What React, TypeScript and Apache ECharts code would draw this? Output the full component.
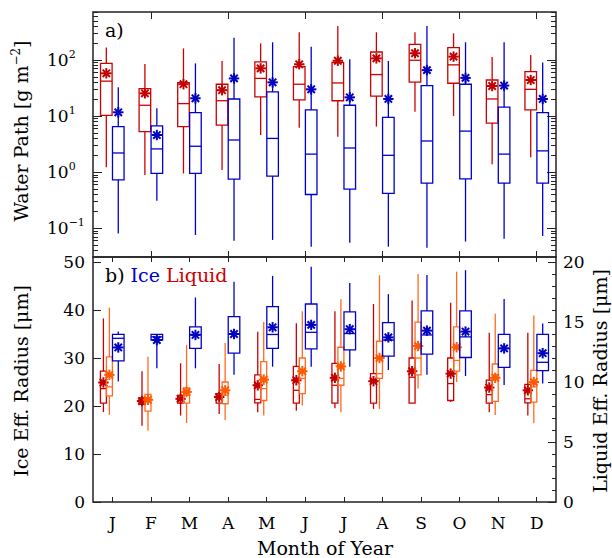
import React, { useEffect, useRef } from "react";
import * as echarts from "echarts";

const months = ["J", "F", "M", "A", "M", "J", "J", "A", "S", "O", "N", "D"];

// Each row: [low whisker, Q1, median, Q3, high whisker, mean]
const liquidWaterPath = [
  [1.22, 10.3, 42, 87, 168, 58],
  [0.89, 5.3, 15.6, 31, 85, 25.5],
  [0.95, 6.5, 16.7, 39.5, 161, 37],
  [1.09, 6.9, 18.8, 37, 96, 29],
  [4.6, 22, 47, 93, 198, 71],
  [6.2, 19.4, 37, 76, 312, 84],
  [4.3, 18.8, 39, 91, 404, 97],
  [6.5, 22.8, 55, 139, 312, 107],
  [12, 40.5, 99, 190, 312, 132],
  [10, 38.5, 82, 166, 299, 115],
  [1.38, 7.5, 20.2, 44, 113, 34.4],
  [1.85, 12.9, 30, 62, 123, 44],
];
const iceWaterPath = [
  [0.081, 0.73, 2.2, 6.5, 32.6, 11.7],
  [0.31, 0.95, 2.6, 6.7, 13.8, 4.6],
  [0.076, 0.95, 2.9, 11.5, 87, 20.8],
  [0.06, 0.75, 3.75, 20.2, 250, 47],
  [0.062, 0.85, 4.0, 27, 207, 40],
  [0.047, 0.4, 2.1, 12.9, 173, 30],
  [0.055, 0.5, 2.7, 15.6, 103, 21.6],
  [0.047, 0.42, 2.0, 9.5, 96, 20.2],
  [0.045, 0.64, 3.6, 35, 404, 66],
  [0.058, 0.76, 5.4, 37, 207, 48],
  [0.065, 0.64, 2.1, 14.5, 207, 35],
  [0.073, 0.64, 2.4, 11.5, 90, 20.2],
];
// Liquid effective radius (right axis), two liquid groups
const liquidRadiusDark = [
  [7.49, 8.24, 9.45, 10.9, 15.3, 9.96],
  [6.35, 8.13, 8.4, 8.67, 10.9, 8.41],
  [7.2, 8.24, 8.6, 8.89, 11.56, 8.6],
  [7.34, 8.24, 8.67, 9.03, 11.5, 8.75],
  [7.49, 8.27, 8.55, 10.6, 14.2, 9.73],
  [7.6, 8.24, 9.31, 11.3, 14.9, 10.15],
  [7.82, 8.24, 9.73, 11.56, 15.9, 10.35],
  [7.76, 8.24, 10.15, 10.7, 16.5, 10.07],
  [8.2, 8.24, 10.4, 12.0, 16.8, 10.9],
  [8.33, 8.46, 9.87, 12.0, 16.6, 10.7],
  [7.49, 8.24, 8.95, 10.15, 14.1, 9.54],
  [7.2, 8.27, 8.6, 9.8, 14.1, 9.31],
];
const liquidRadiusOrange = [
  [7.26, 8.84, 9.6, 12.1, 16.2, 10.6],
  [5.93, 7.57, 8.67, 8.97, 12.1, 8.52],
  [6.58, 8.24, 8.9, 9.5, 13.1, 9.17],
  [6.84, 8.19, 8.9, 10.0, 13.25, 9.31],
  [7.2, 8.46, 9.45, 11.7, 15.0, 10.2],
  [8.04, 9.03, 10.3, 12.0, 15.9, 10.9],
  [7.49, 9.73, 10.3, 12.9, 16.9, 11.3],
  [7.76, 10.3, 10.7, 13.4, 18.9, 12.0],
  [9.45, 10.6, 12.0, 15.0, 19.0, 13.0],
  [10.0, 10.9, 11.8, 14.6, 19.2, 12.9],
  [7.26, 8.38, 10.6, 11.5, 15.7, 10.35],
  [6.56, 8.33, 9.6, 10.97, 15.55, 10.0],
];
// Ice effective radius (left axis)
const iceRadius = [
  [25.1, 29.4, 34.1, 34.9, 35.5, 32.2],
  [27.85, 33.75, 34.4, 34.9, 35.0, 33.75],
  [27.85, 32.0, 34.9, 36.5, 42.6, 34.8],
  [26.5, 31.0, 35.0, 38.6, 45.9, 35.0],
  [28.2, 32.0, 34.9, 40.7, 47.1, 36.4],
  [28.2, 31.9, 35.35, 41.25, 49.0, 36.9],
  [28.2, 31.7, 35.1, 39.6, 45.6, 36.0],
  [27.5, 30.4, 33.75, 37.35, 43.3, 34.3],
  [26.5, 30.8, 34.8, 39.8, 47.3, 35.7],
  [26.25, 30.1, 34.4, 39.8, 48.3, 35.5],
  [24.4, 28.06, 32.0, 34.9, 42.3, 32.0],
  [24.7, 27.35, 29.1, 34.9, 37.2, 31.0],
];

const logDecades = [-1, 0, 1, 2];
const iceRadiusTicks = [0, 10, 20, 30, 40, 50];
const liquidRadiusTicks = [0, 5, 10, 15, 20];
const liquidRadiusMinor = [1, 2, 3, 4, 6, 7, 8, 9, 11, 12, 13, 14, 16, 17, 18, 19];

const FONT = "DejaVu Serif";
const LOG_MIN = -1.512;
const LOG_MAX = 2.856;

const logMinor: number[] = [];
for (let n = -2; n <= 2; n++) {
  for (let k = 2; k <= 9; k++) {
    const v = Math.log10(k) + n;
    if (v > LOG_MIN && v < LOG_MAX) logMinor.push(v);
  }
}

const RED = "#cc0000";
const BLUE = "#0000cc";
const ORANGE = "#ff6a1f";

function star(cx: number, cy: number, color: string) {
  const r = 5.2;
  const d = r * Math.SQRT1_2;
  const st = { stroke: color, lineWidth: 2 };
  return [
    { type: "line", shape: { x1: cx - r, y1: cy, x2: cx + r, y2: cy }, style: st },
    { type: "line", shape: { x1: cx, y1: cy - r, x2: cx, y2: cy + r }, style: st },
    { type: "line", shape: { x1: cx - d, y1: cy - d, x2: cx + d, y2: cy + d }, style: st },
    { type: "line", shape: { x1: cx - d, y1: cy + d, x2: cx + d, y2: cy - d }, style: st },
  ];
}

function makeBox(offset: number, widthFrac: number, color: string, starColor: string) {
  return (params: any, api: any) => {
    const i = api.value(0);
    const vals = [1, 2, 3, 4, 5, 6].map((d) => api.value(d));
    const band = api.size([1, 0])[0];
    const cx = api.coord([i, vals[2]])[0] + offset * band;
    const w = widthFrac * band;
    const ys = vals.map((v: number) => api.coord([i, v])[1]);
    const [yLow, yQ1, yMed, yQ3, yHigh, yMean] = ys;
    const ls = { stroke: color, lineWidth: 1.3 };
    return {
      type: "group",
      children: [
        { type: "line", shape: { x1: cx, y1: yLow, x2: cx, y2: yQ1 }, style: ls },
        { type: "line", shape: { x1: cx, y1: yQ3, x2: cx, y2: yHigh }, style: ls },
        {
          type: "rect",
          shape: { x: cx - w / 2, y: yQ3, width: w, height: yQ1 - yQ3 },
          style: { stroke: color, lineWidth: 1.3, fill: "none" },
        },
        { type: "line", shape: { x1: cx - w / 2, y1: yMed, x2: cx + w / 2, y2: yMed }, style: ls },
        ...star(cx, yMean, starColor),
      ],
    };
  };
}

function toData(rows: number[][], log: boolean) {
  return rows.map((r, i) => [i, ...r.map((v) => (log ? Math.log10(v) : v))]);
}

const expLabel = (v: number) => {
  const e = Math.round(v);
  return `{b|10}{s|${e < 0 ? "\u2212" + -e : e}}`;
};

export default function App() {
  const ref = useRef<HTMLDivElement>(null);
  useEffect(() => {
    if (!ref.current) return;
    const chart = echarts.init(ref.current, undefined, { renderer: "svg" });
    const tickStyle = { color: "#222", width: 1 };
    const baseX = (grid: number, pos: string, len: number, every: boolean, labels: boolean) => ({
      type: "category",
      gridIndex: grid,
      position: pos,
      data: months,
      boundaryGap: true,
      axisLine: { show: false, onZero: false },
      axisTick: {
        show: true,
        inside: true,
        length: len,
        alignWithLabel: true,
        interval: every ? 0 : (idx: number) => idx % 2 === 1,
        lineStyle: tickStyle,
      },
      axisLabel: labels
        ? { show: true, fontFamily: FONT, fontSize: 17, color: "#000", margin: 12, interval: 0 }
        : { show: false },
      splitLine: { show: false },
    });
    const valY = (
      grid: number,
      pos: string,
      min: number,
      max: number,
      ticks: number[],
      len: number,
      label: any
    ) => ({
      type: "value",
      gridIndex: grid,
      position: pos,
      min,
      max,
      axisLine: { show: false, onZero: false },
      axisTick: { show: true, inside: true, length: len, customValues: ticks, lineStyle: tickStyle },
      axisLabel: label ? { ...label, customValues: ticks } : { show: false },
      splitLine: { show: false },
    });
    const richExp = {
      b: { fontFamily: FONT, fontSize: 17, color: "#000", lineHeight: 22 },
      s: { fontFamily: FONT, fontSize: 11, color: "#000", lineHeight: 12, verticalAlign: "top" },
    };
    const option: any = {
      animation: false,
      backgroundColor: "#fff",
      grid: [
        { left: 93, top: 12, width: 463, height: 245, show: true, borderColor: "#222", borderWidth: 1.5, backgroundColor: "transparent" },
        { left: 93, top: 257, width: 463, height: 245, show: true, borderColor: "#222", borderWidth: 1.5, backgroundColor: "transparent" },
      ],
      xAxis: [
        baseX(0, "bottom", 6, false, false),
        baseX(0, "top", 7, false, false),
        baseX(1, "top", 5, true, false),
        baseX(1, "bottom", 5, true, true),
      ],
      yAxis: [
        valY(0, "left", LOG_MIN, LOG_MAX, logDecades, 9, {
          show: true,
          formatter: expLabel,
          rich: richExp,
          align: "left",
          margin: 46,
        }),
        valY(0, "left", LOG_MIN, LOG_MAX, logMinor, 5, null),
        valY(0, "right", LOG_MIN, LOG_MAX, logDecades, 9, null),
        valY(0, "right", LOG_MIN, LOG_MAX, logMinor, 5, null),
        valY(1, "left", 0, 51.04, iceRadiusTicks, 8, {
          show: true,
          fontFamily: FONT,
          fontSize: 17,
          color: "#000",
          margin: 8,
        }),
        valY(1, "right", 0, 20.42, liquidRadiusTicks, 8, {
          show: true,
          fontFamily: FONT,
          fontSize: 17,
          color: "#000",
          margin: 7,
        }),
        valY(1, "right", 0, 20.42, liquidRadiusMinor, 4, null),
      ],
      series: [
        {
          type: "custom",
          xAxisIndex: 0,
          yAxisIndex: 0,
          renderItem: makeBox(-0.155, 0.3, RED, "#c00000"),
          encode: { x: 0, y: [1, 2, 3, 4, 5, 6] },
          data: toData(liquidWaterPath, true),
          z: 3,
        },
        {
          type: "custom",
          xAxisIndex: 0,
          yAxisIndex: 0,
          renderItem: makeBox(0.155, 0.3, BLUE, "#0000c0"),
          encode: { x: 0, y: [1, 2, 3, 4, 5, 6] },
          data: toData(iceWaterPath, true),
          z: 3,
        },
        {
          type: "custom",
          xAxisIndex: 3,
          yAxisIndex: 5,
          renderItem: makeBox(-0.23, 0.155, RED, "#c00000"),
          encode: { x: 0, y: [1, 2, 3, 4, 5, 6] },
          data: toData(liquidRadiusDark, false),
          z: 3,
        },
        {
          type: "custom",
          xAxisIndex: 3,
          yAxisIndex: 5,
          renderItem: makeBox(-0.075, 0.155, ORANGE, "#ff5a00"),
          encode: { x: 0, y: [1, 2, 3, 4, 5, 6] },
          data: toData(liquidRadiusOrange, false),
          z: 3,
        },
        {
          type: "custom",
          xAxisIndex: 3,
          yAxisIndex: 4,
          renderItem: makeBox(0.155, 0.3, BLUE, "#0000c0"),
          encode: { x: 0, y: [1, 2, 3, 4, 5, 6] },
          data: toData(iceRadius, false),
          z: 3,
        },
      ],
      graphic: [
        {
          type: "text",
          x: 105,
          y: 30,
          style: { text: "a)", fontFamily: FONT, fontSize: 19, fill: "#000", verticalAlign: "middle" },
        },
        {
          type: "text",
          x: 105,
          y: 275,
          style: {
            text: "{k|b)} {i|Ice} {l|Liquid}",
            verticalAlign: "middle",
            fontFamily: FONT,
            fontSize: 19,
            rich: {
              k: { fill: "#000", fontFamily: FONT, fontSize: 19 },
              i: { fill: BLUE, fontFamily: FONT, fontSize: 19 },
              l: { fill: RED, fontFamily: FONT, fontSize: 19 },
            },
          },
        },
        {
          type: "text",
          x: 21,
          y: 131,
          rotation: Math.PI / 2,
          style: {
            text: "Water Path [g m{s|\u22122}]",
            align: "center",
            verticalAlign: "middle",
            fontFamily: FONT,
            fontSize: 19,
            lineHeight: 23,
            fill: "#000",
            rich: {
              s: { fontFamily: FONT, fontSize: 12, lineHeight: 12, verticalAlign: "top", fill: "#000" },
            },
          },
        },
        {
          type: "text",
          x: 21,
          y: 381,
          rotation: Math.PI / 2,
          style: {
            text: "Ice Eff. Radius [\u03bcm]",
            align: "center",
            verticalAlign: "middle",
            fontFamily: FONT,
            fontSize: 19,
            fill: "#000",
          },
        },
        {
          type: "text",
          x: 600,
          y: 381,
          rotation: Math.PI / 2,
          style: {
            text: "Liquid Eff. Radius [\u03bcm]",
            align: "center",
            verticalAlign: "middle",
            fontFamily: FONT,
            fontSize: 19,
            fill: "#000",
          },
        },
        {
          type: "text",
          x: 325,
          y: 548,
          style: {
            text: "Month of Year",
            align: "center",
            verticalAlign: "middle",
            fontFamily: FONT,
            fontSize: 19,
            fill: "#000",
          },
        },
      ],
    };
    chart.setOption(option);
    return () => chart.dispose();
  }, []);
  return (
    <div
      ref={ref}
      style={{ position: "absolute", left: 0, top: 0, width: 612, height: 558 }}
    />
  );
}
